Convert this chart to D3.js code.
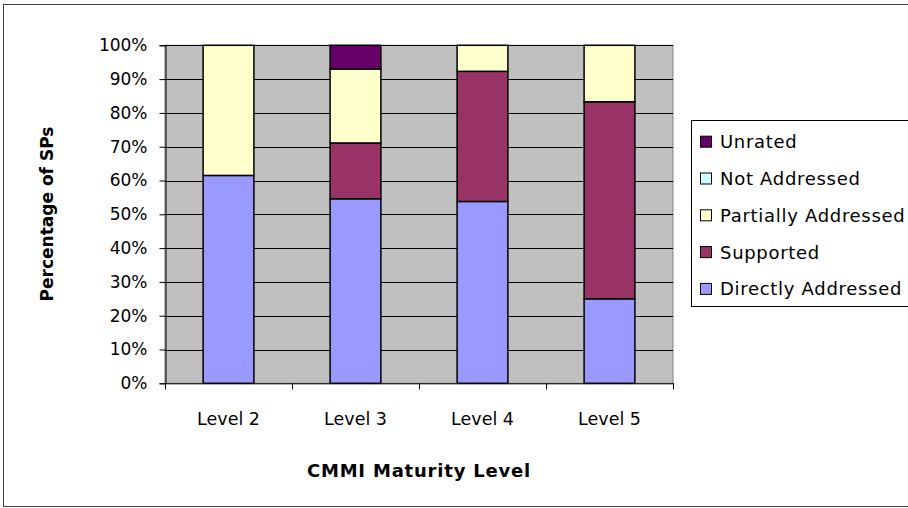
<!DOCTYPE html>
<html><head><meta charset="utf-8">
<script src="https://cdn.jsdelivr.net/npm/d3@7"></script>
<style>
html,body{margin:0;padding:0;background:#fff;}
svg{display:block;font-family:"DejaVu Sans",Verdana,sans-serif;}
</style></head>
<body>
<svg id="chart" width="908" height="508"></svg>
<script>
const categories = ["Level 2", "Level 3", "Level 4", "Level 5"];
const seriesNames = ["Directly Addressed", "Supported", "Partially Addressed", "Not Addressed", "Unrated"];
const directlyAddressed = [61.5, 54.6, 53.8, 25.0];
const supported = [0, 16.5, 38.5, 58.3];
const partiallyAddressed = [38.5, 21.9, 7.7, 16.7];
const notAddressed = [0, 0, 0, 0];
const unrated = [0, 7.0, 0, 0];
const seriesColors = ["#9999FF", "#993366", "#FFFFCC", "#CCFFFF", "#660066"];
const yTicks = [0, 10, 20, 30, 40, 50, 60, 70, 80, 90, 100];

const seriesValues = [directlyAddressed, supported, partiallyAddressed, notAddressed, unrated];
const table = categories.map((c, i) => {
  const row = {category: c};
  seriesNames.forEach((s, j) => row[s] = seriesValues[j][i]);
  return row;
});

const svg = d3.select("#chart");
const plot = {left: 165, right: 673, top: 45.3, bottom: 383.3};

// outer frame
svg.append("rect").attr("x", 3.5).attr("y", 4.5).attr("width", 920).attr("height", 502)
  .attr("fill", "#fff").attr("stroke", "#444").attr("stroke-width", 1);

const x = d3.scaleBand().domain(categories).range([plot.left, plot.right]).paddingInner(0.6).paddingOuter(0.3);
const xBound = d3.scaleBand().domain(categories).range([plot.left, plot.right]);
const y = d3.scaleLinear().domain([0, 100]).range([plot.bottom, plot.top]);

// plot background
svg.append("rect").attr("x", plot.left).attr("y", plot.top)
  .attr("width", plot.right - plot.left).attr("height", plot.bottom - plot.top)
  .attr("fill", "#C0C0C0").attr("stroke", "#808080").attr("stroke-width", 1);

// gridlines
svg.append("g").selectAll("line").data(yTicks.filter(t => t > 0)).join("line")
  .attr("x1", plot.left).attr("x2", plot.right)
  .attr("y1", d => Math.round(y(d)) + 0.5).attr("y2", d => Math.round(y(d)) + 0.5)
  .attr("stroke", "#000").attr("stroke-width", 1);

// stacked bars
const stack = d3.stack().keys(seriesNames)(table);
svg.append("g").selectAll("g").data(stack).join("g")
  .attr("fill", (d, i) => seriesColors[i])
  .selectAll("rect").data(d => d.filter(p => p[1] - p[0] > 0)).join("rect")
  .attr("x", d => x(d.data.category))
  .attr("width", x.bandwidth())
  .attr("y", d => y(d[1]))
  .attr("height", d => y(d[0]) - y(d[1]))
  .attr("stroke", "#000").attr("stroke-width", 1.5);

// y axis
const yAxis = d3.axisLeft(y).tickValues(yTicks).tickFormat(d => d + "%").tickSize(6).tickPadding(12);
const gy = svg.append("g").attr("transform", `translate(${plot.left + 0.5},0)`).call(yAxis);
gy.select(".domain").attr("stroke", "#000");
gy.selectAll(".tick line").attr("stroke", "#000");
gy.selectAll(".tick text").attr("font-size", 17).attr("fill", "#000")
  .attr("font-family", "'DejaVu Sans', sans-serif");

// x axis
const xAxis = d3.axisBottom(xBound).tickSize(0).tickPadding(0);
const gx = svg.append("g").attr("transform", `translate(0,${plot.bottom})`).call(xAxis);
gx.select(".domain").attr("stroke", "#000");
gx.selectAll(".tick text").attr("font-size", 17.5).attr("fill", "#000").attr("dy", 42)
  .attr("font-family", "'DejaVu Sans', sans-serif");
// category boundary ticks
const bounds = categories.map(c => xBound(c)).concat([plot.right]);
gx.append("g").selectAll("line").data(bounds).join("line")
  .attr("x1", d => Math.round(d) + 0.5).attr("x2", d => Math.round(d) + 0.5)
  .attr("y1", 0).attr("y2", 6).attr("stroke", "#000");

// axis titles
svg.append("text").attr("x", 419).attr("y", 477).attr("text-anchor", "middle")
  .attr("font-size", 18).attr("font-weight", "bold").attr("letter-spacing", 0.8)
  .text("CMMI Maturity Level");
svg.append("text").attr("transform", "translate(53,214) rotate(-90)").attr("text-anchor", "middle")
  .attr("font-size", 17).attr("font-weight", "bold")
  .text("Percentage of SPs");

// legend
const legend = svg.append("g");
legend.append("rect").attr("x", 691.5).attr("y", 120.5).attr("width", 240).attr("height", 186)
  .attr("fill", "#fff").attr("stroke", "#000").attr("stroke-width", 1);
const legendOrder = seriesNames.map((s, i) => ({name: s, color: seriesColors[i]})).reverse();
const rows = legend.selectAll("g.row").data(legendOrder).join("g").attr("class", "row")
  .attr("transform", (d, i) => `translate(700,${141.7 + i * 36.8})`);
rows.append("rect").attr("x", 0.5).attr("y", -5.5).attr("width", 11).attr("height", 11)
  .attr("fill", d => d.color).attr("stroke", "#000").attr("stroke-width", 1);
rows.append("text").attr("x", 20).attr("y", 6.5).attr("font-size", 18).attr("letter-spacing", 0.7)
  .text(d => d.name);
</script>
</body></html>
